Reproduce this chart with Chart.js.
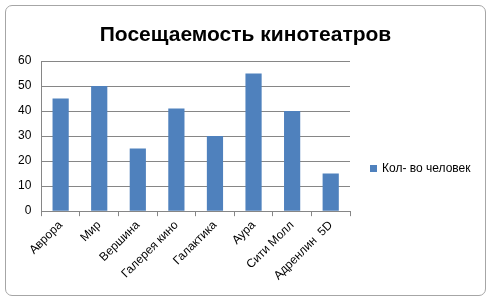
<!DOCTYPE html>
<html>
<head>
<meta charset="utf-8">
<script src="https://cdn.jsdelivr.net/npm/chart.js@4"></script>
<style>
  html, body { margin: 0; padding: 0; background: #fff; }
  body { width: 491px; height: 300px; position: relative; overflow: hidden; }
  .frame {
    position: absolute; left: 5px; top: 5px; width: 479px; height: 289px;
    border: 1px solid #a6a6a6; border-radius: 7px; background: #fff;
  }
  .frame canvas { display: block; }
  .title {
    position: absolute; left: 0; right: 0; top: 15px; text-align: center;
    font: bold 21px 'Liberation Sans'; line-height: 25px; color: #000;
  }
  .legend {
    position: absolute; left: 364px; top: 155px;
    font: 12px 'Liberation Sans'; color: #000; white-space: nowrap;
  }
  .legend i { display: inline-block; width: 7px; height: 7px; margin-right: 5px; vertical-align: 0; }
</style>
</head>
<body>
<div class="frame">
  <canvas id="chart" width="479" height="289"></canvas>
  <div class="title" id="title"></div>
  <div class="legend" id="legend"></div>
</div>
<script>
// ── Data ───────────────────────────────────────────────
const chartTitle = 'Посещаемость кинотеатров';
const cinemas  = ['Аврора', 'Мир', 'Вершина', 'Галерея кино', 'Галактика', 'Аура', 'Сити Молл', 'Адренлин  5D'];
const visitors = [45, 50, 25, 41, 30, 55, 40, 15];
const seriesName = 'Кол- во человек';
const yTicks   = [0, 10, 20, 30, 40, 50, 60];

const BAR   = '#4f81bd';
const GRID  = '#868686';
const FONT  = 'Liberation Sans';

const chart = new Chart(document.getElementById('chart'), {
  type: 'bar',
  data: {
    labels: cinemas,
    datasets: [{
      label: seriesName,
      data: visitors,
      backgroundColor: BAR,
      borderWidth: 0,
      categoryPercentage: 1,
      barPercentage: 0.42
    }]
  },
  options: {
    responsive: false,
    animation: false,
    layout: { padding: { left: 2, right: 135, top: 55, bottom: 10 } },
    plugins: {
      title: { display: false },
      legend: { display: false },
      tooltip: { enabled: false }
    },
    scales: {
      x: {
        grid: { display: true, offset: true, drawOnChartArea: false, drawTicks: true, tickLength: 5, color: GRID },
        border: { color: GRID },
        ticks: { color: '#000', font: { family: FONT, size: 12 }, minRotation: 45, maxRotation: 45, padding: 2, autoSkip: false }
      },
      y: {
        min: yTicks[0], max: yTicks[yTicks.length - 1],
        afterBuildTicks: axis => { axis.ticks = yTicks.map(v => ({ value: v })); },
        grid: { color: GRID, drawTicks: false },
        border: { color: GRID },
        ticks: { color: '#000', font: { family: FONT, size: 12 }, padding: 10 }
      }
    }
  }
});

// ── Title and legend (HTML, from the data) ─────────────
document.getElementById('title').textContent = chartTitle;
document.getElementById('legend').innerHTML = chart.data.datasets.map(ds =>
  `<div><i style="background:${ds.backgroundColor}"></i>${ds.label}</div>`
).join('');
</script>
</body>
</html>
